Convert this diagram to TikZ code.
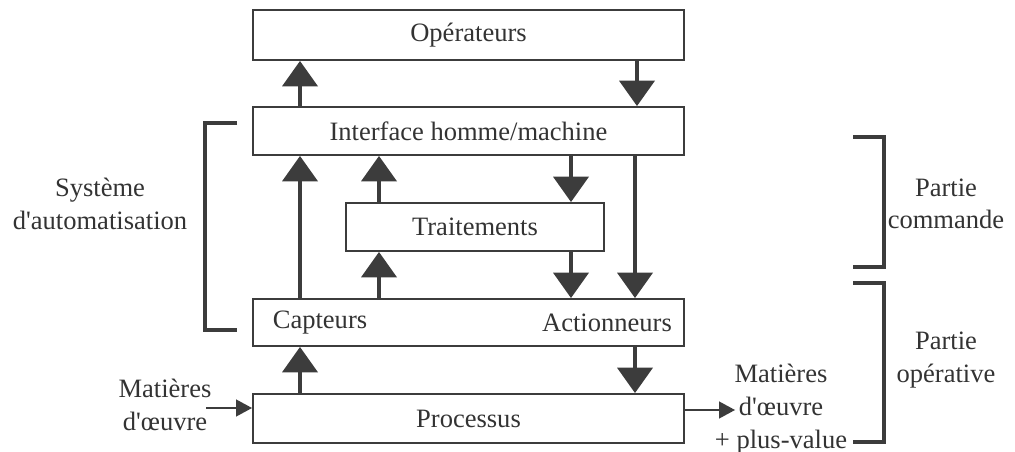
\documentclass[tikz,border=0pt]{standalone}
\usepackage{fontspec}
\setmainfont{Liberation Serif}[Ligatures=TeXOff]
\usetikzlibrary{arrows.meta}
\definecolor{ink}{HTML}{3C3C3C}
\definecolor{txt}{HTML}{333333}
\begin{document}
\begin{tikzpicture}[x=0.75pt,y=-0.75pt,
  fnt/.style={font=\fontsize{19.9}{24.5}\selectfont},
  box/.style={draw=ink, line width=1.5pt, inner sep=0pt, text=txt, fnt},
  lbl/.style={text=txt, fnt, inner sep=0pt, align=center},
  arr/.style={draw=ink, line width=3pt, -{Triangle[width=27pt,length=19pt,line width=0pt]}},
  thin/.style={draw=ink, line width=1.5pt, -{Triangle[width=13pt,length=12pt,line width=0pt]}},
  brk/.style={draw=ink, line width=3pt, line cap=butt, line join=miter}]
\useasboundingbox[fill=white] (0,0) rectangle (1015,452);

% boxes
\node[box, minimum width=431*0.75pt, minimum height=50*0.75pt] (op) at (468.5,35) {Opérateurs};
\node[box, minimum width=431*0.75pt, minimum height=48*0.75pt] (ihm) at (468.5,131) {Interface homme/machine};
\node[box, minimum width=258*0.75pt, minimum height=48*0.75pt] (tr) at (475,227) {Traitements};
\node[box, minimum width=431*0.75pt, minimum height=47*0.75pt] (ca) at (468.5,322.5) {};
\node[box, minimum width=431*0.75pt, minimum height=49*0.75pt] (pr) at (468.5,418.5) {Processus};
\node[lbl] (capt) at (320,323) {Capteurs};
\node[lbl] (act) at (607,323) {Actionneurs};

% columns
\coordinate (c1) at (300,0);
\coordinate (c2) at (379,0);
\coordinate (c3) at (571,0);
\coordinate (c4) at (635,0);
\coordinate (c5) at (637,0);

\draw[arr] (ihm.north -| c1) -- (op.south -| c1);
\draw[arr] (op.south -| c5) -- (ihm.north -| c5);
\draw[arr] (ca.north -| c1) -- (ihm.south -| c1);
\draw[arr] (tr.north -| c2) -- (ihm.south -| c2);
\draw[arr] (ihm.south -| c3) -- (tr.north -| c3);
\draw[arr] (ca.north -| c2) -- (tr.south -| c2);
\draw[arr] (tr.south -| c3) -- (ca.north -| c3);
\draw[arr] (ihm.south -| c4) -- (ca.north -| c4);
\draw[arr] (pr.north -| c1) -- (ca.south -| c1);
\draw[arr] (ca.south -| c4) -- (pr.north -| c4);

% inputs / outputs
\coordinate (inS) at (206,408);
\coordinate (outE) at (735,410);
\draw[thin] (inS) -- (pr.west |- inS);
\draw[thin] (pr.east |- outE) -- (outE);
\node[lbl] (min) at (165,405) {Matières\\d'œuvre};
\node[lbl] (mout) at (781,409) {Matières\\d'œuvre\\+ plus-value};

% brackets
\draw[brk] (237,123) -- (205,123) -- (205,330) -- (237,330);
\draw[brk] (853,137) -- (884,137) -- (884,267) -- (853,267);
\draw[brk] (853,283) -- (884,283) -- (884,442) -- (853,442);

\node[lbl] (sys) at (100,204) {Système\\d'automatisation};
\node[lbl] (pc) at (946,204) {Partie\\commande};
\node[lbl] (po) at (946,360) {Partie\\opérative};
\end{tikzpicture}
\end{document}
